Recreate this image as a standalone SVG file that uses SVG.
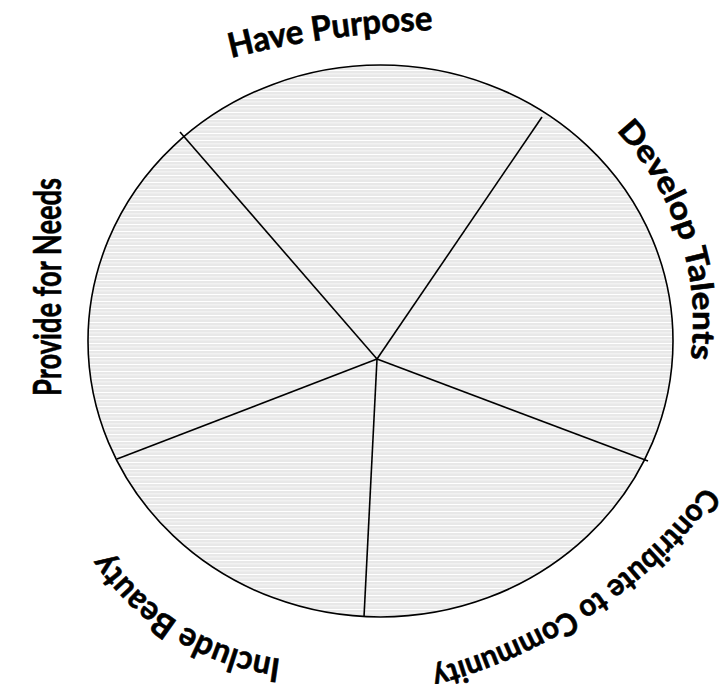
<svg xmlns="http://www.w3.org/2000/svg" width="721" height="684" viewBox="0 0 721 684">
<defs>
<pattern id="hatch" patternUnits="userSpaceOnUse" width="8" height="7">
<rect width="8" height="7" fill="#e8e8e8"/>
<rect y="0" width="8" height="1" fill="#ffffff"/>
<rect y="3.5" width="8" height="0.8" fill="#fafafa"/>
</pattern>
<path id="p-have" d="M 231 58 A 943 943 0 0 1 434 30"/>
<path id="p-dev" d="M 616 131 A 274 274 0 0 1 690 362"/>
<path id="p-con" d="M 705 486 A 501 501 0 0 1 432 669"/>
<path id="p-inc" d="M 281 659 A 245 245 0 0 1 107 551"/>
</defs>
<style>
.lbl { font-family: Lato, "Liberation Sans", sans-serif; font-weight: bold; fill: #000; stroke: #000; stroke-width: 0.6; }
.spoke { stroke: #000; stroke-width: 1.6; fill: none; }
.rim { stroke: #000; stroke-width: 1.6; fill: url(#hatch); }
</style>
<g id="wheel">
<ellipse class="rim" cx="380.5" cy="341" rx="292.5" ry="276"/>
</g>
<g id="spokes">
<line class="spoke" x1="377" y1="359" x2="180" y2="132"/>
<line class="spoke" x1="377" y1="359" x2="542" y2="117"/>
<line class="spoke" x1="377" y1="359" x2="648" y2="461"/>
<line class="spoke" x1="377" y1="359" x2="364" y2="617"/>
<line class="spoke" x1="377" y1="359" x2="117" y2="459"/>
</g>
<g id="have-purpose">
<text class="lbl" font-size="34"><textPath href="#p-have" textLength="204" lengthAdjust="spacingAndGlyphs">Have Purpose</textPath></text>
</g>
<g id="develop-talents">
<text class="lbl" font-size="31"><textPath href="#p-dev" textLength="248" lengthAdjust="spacingAndGlyphs">Develop Talents</textPath></text>
</g>
<g id="contribute-to-community">
<text class="lbl" font-size="31"><textPath href="#p-con" textLength="336" lengthAdjust="spacingAndGlyphs">Contribute to Community</textPath></text>
</g>
<g id="include-beauty">
<text class="lbl" font-size="33"><textPath href="#p-inc" textLength="210" lengthAdjust="spacingAndGlyphs">Include Beauty</textPath></text>
</g>
<g id="provide-for-needs">
<text class="lbl" font-size="38" transform="translate(61,396) rotate(-90)" textLength="218" lengthAdjust="spacingAndGlyphs">Provide for Needs</text>
</g>
</svg>
